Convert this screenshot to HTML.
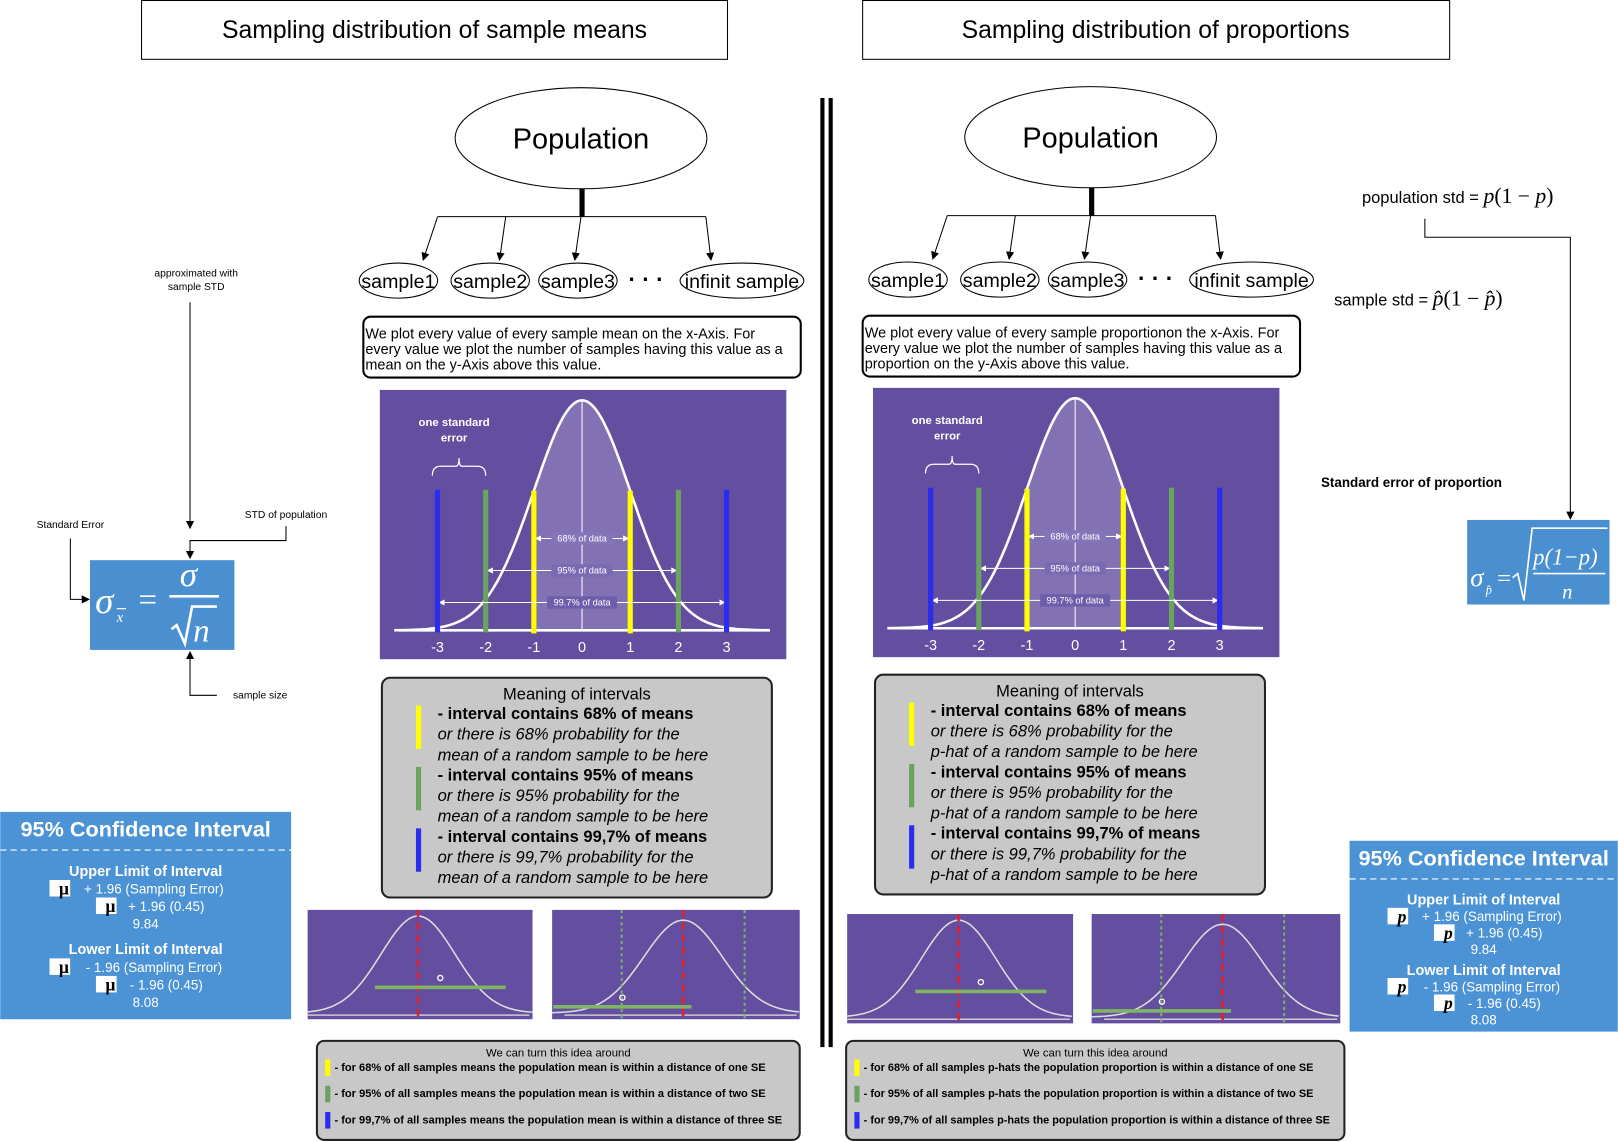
<!DOCTYPE html>
<html><head><meta charset="utf-8"><style>
html,body{margin:0;padding:0;background:#fff;}
svg{display:block;font-family:"Liberation Sans",sans-serif;}
</style></head><body>
<svg id="root" width="1618" height="1142" viewBox="0 0 1568 1107" xmlns="http://www.w3.org/2000/svg">
<defs>
<marker id="ah" markerWidth="8" markerHeight="8" refX="7" refY="4" orient="auto" markerUnits="userSpaceOnUse"><path d="M0,0 L8,4 L0,8 z" fill="#000"/></marker>
<marker id="wa" markerWidth="6" markerHeight="6" refX="5" refY="3" orient="auto" markerUnits="userSpaceOnUse"><path d="M0,0 L6,3 L0,6 z" fill="#fff"/></marker>
</defs>

<g>
<rect x="137" y="0.5" width="568" height="57" fill="#fff" stroke="#000"/>
<text x="421" y="37" font-size="24" text-anchor="middle">Sampling distribution of sample means</text></g>
<g>
<rect x="836" y="0.5" width="569" height="57" fill="#fff" stroke="#000"/>
<text x="1120" y="37" font-size="24" text-anchor="middle">Sampling distribution of proportions</text></g>

<g>
<rect x="795" y="95" width="4" height="920" fill="#000"/>
<rect x="803" y="95" width="4" height="920" fill="#000"/></g>

<g font-size="10">
<text x="190" y="268" text-anchor="middle">approximated with</text>
<text x="190" y="281" text-anchor="middle">sample STD</text>
<line x1="184" y1="293" x2="184" y2="512" stroke="#000" marker-end="url(#ah)"/>
<text x="277" y="502" text-anchor="middle">STD of population</text>
<polyline points="277,510 277,524 184,524 184,541" fill="none" stroke="#000" marker-end="url(#ah)"/>
<text x="68" y="512" text-anchor="middle">Standard Error</text>
<polyline points="68,522 68,581 86,581" fill="none" stroke="#000" marker-end="url(#ah)"/>
<text x="252" y="677" text-anchor="middle">sample size</text>
<polyline points="210,674 184,674 184,632" fill="none" stroke="#000" marker-end="url(#ah)"/>
</g>
<g>
<rect x="87" y="543" width="140" height="87" fill="#4a8fd0"/>
<text x="92" y="594" font-size="36" font-family="Liberation Serif,serif" font-style="italic" fill="#fff">σ</text>
<text x="113" y="603" font-size="14" font-family="Liberation Serif,serif" font-style="italic" fill="#fff">x</text>
<line x1="113" y1="590" x2="122" y2="590" stroke="#fff" stroke-width="1.2"/>
<text x="134" y="592" font-size="32" font-family="Liberation Serif,serif" fill="#fff">=</text>
<text x="174" y="568" font-size="34" font-family="Liberation Serif,serif" font-style="italic" fill="#fff">σ</text>
<line x1="164" y1="578" x2="212" y2="578" stroke="#fff" stroke-width="2.5"/>
<path d="M166,610 L171,606 L179,624 L186,588 L210,588" fill="none" stroke="#fff" stroke-width="2.5"/>
<text x="187" y="622" font-size="32" font-family="Liberation Serif,serif" font-style="italic" fill="#fff">n</text>
</g>

<g>
<text x="1320" y="197" font-size="16">population std = <tspan font-family="Liberation Serif,serif" font-size="21" font-style="italic">p</tspan><tspan font-family="Liberation Serif,serif" font-size="21">(1 − </tspan><tspan font-family="Liberation Serif,serif" font-size="21" font-style="italic">p</tspan><tspan font-family="Liberation Serif,serif" font-size="21">)</tspan></text>
<polyline points="1381,212 1381,230 1522,230 1522,503" fill="none" stroke="#000" marker-end="url(#ah)"/>
<text x="1293" y="296" font-size="16">sample std = <tspan font-family="Liberation Serif,serif" font-size="21" font-style="italic">p̂</tspan><tspan font-family="Liberation Serif,serif" font-size="21">(1 − </tspan><tspan font-family="Liberation Serif,serif" font-size="21" font-style="italic">p̂</tspan><tspan font-family="Liberation Serif,serif" font-size="21">)</tspan></text>
<text x="1368" y="472" font-size="13" font-weight="bold" text-anchor="middle">Standard error of proportion</text>
</g>
<g font-family="Liberation Serif,serif" fill="#fff">
<rect x="1422" y="504" width="138" height="82" fill="#4a8fd0"/>
<text x="1425" y="568" font-size="26" font-style="italic" fill="#fff">σ</text>
<text x="1440" y="576" font-size="12" font-style="italic" fill="#fff">p̂</text>
<text x="1451" y="568" font-size="24" fill="#fff">=</text>
<path d="M1466,560 L1471,556 L1477,582 L1485,512 L1558,512" fill="none" stroke="#fff" stroke-width="1.6"/>
<text x="1486" y="547" font-size="22" font-style="italic" fill="#fff">p(1−p)</text>
<line x1="1486" y1="556" x2="1556" y2="556" stroke="#fff" stroke-width="1.5"/>
<text x="1514" y="580" font-size="20" font-style="italic" fill="#fff">n</text>
</g>

<g id="dyn"></g>
</svg>
<script>
var sdTicks = [-3, -2, -1, 0, 1, 2, 3];
var bandSigma = [1, 2, 3];
var bandLabels = ['68% of data', '95% of data', '99.7% of data'];
var bandColors = ['#ffff00', '#6aa35e', '#2c2cf0'];
var sampleNames = ['sample1', 'sample2', 'sample3', 'infinit sample'];
var meaningHeads = ['- interval contains 68% of means', '- interval contains 95% of means', '- interval contains 99,7% of means'];
var meaningPct = ['68%', '95%', '99,7%'];
var turnPct = ['68%', '95%', '99,7%'];
var turnDist = ['one', 'two', 'three'];
var smallMeans = [0, 0];
var sampleMeansA = [0.6, -1.55];
var ciHalf = [1.96, 1.96];

var NS = 'http://www.w3.org/2000/svg';
var dyn = document.getElementById('dyn');
function mk(tag, attrs, parent) {
  var e = document.createElementNS(NS, tag);
  for (var k in attrs) e.setAttribute(k, attrs[k]);
  (parent || dyn).appendChild(e);
  return e;
}
function txt(str, attrs, parent) { var t = mk('text', attrs, parent); t.textContent = str; return t; }

function side(ox, oy, key, isProp, cfg) {
  var g = mk('g', {});
  
  
  var pe = mk('ellipse', {cx: 563 + ox, cy: 134 + oy, rx: 122, ry: 49, fill: '#fff', stroke: '#000', 'stroke-width': 1}, g);
  
  
  txt('Population', {x: 563 + ox, y: 144 + oy, 'font-size': 28, 'text-anchor': 'middle'}, g);
  mk('rect', {x: 561.5 + ox, y: 183 + oy, width: 5, height: 27}, g);
  mk('line', {x1: 424 + ox, y1: 210 + oy, x2: 684 + ox, y2: 210 + oy, stroke: '#000'}, g);
  var from = [424, 490, 563, 684], to = [410, 484, 557, 689];
  var sx = [386, 475, 560, 719], rx = [38, 38, 38, 60];
  for (var i = 0; i < 4; i++) {
    mk('line', {x1: from[i] + ox, y1: 210 + oy, x2: to[i] + ox, y2: 252 + oy, stroke: '#000', 'marker-end': 'url(#ah)'}, g);
    var se = mk('ellipse', {cx: sx[i] + ox, cy: 272 + oy, rx: rx[i], ry: 17, fill: '#fff', stroke: '#000'}, g);
    
    
    txt(sampleNames[i], {x: sx[i] + ox, y: 279 + oy, 'font-size': 19, 'text-anchor': 'middle'}, g);
  }
  txt('· · ·', {x: 626 + ox, y: 278 + oy, 'font-size': 22, 'font-weight': 'bold', 'text-anchor': 'middle'}, g);
  var ex = cfg.explX;
  var eb = mk('rect', {x: ex, y: 307 + oy, width: 424, height: 59, rx: 7, fill: '#fff', stroke: '#000', 'stroke-width': 2}, g);
  
  
  var lines = cfg.expl;
  for (var j = 0; j < 3; j++) txt(lines[j], {x: ex + 2, y: 328 + oy + j * 15, 'font-size': 14}, g);

  var cx0 = cfg.chartX, cy0 = cfg.chartY;
  var ch = mk('g', {}, g);
  
  
  mk('rect', {x: cx0, y: cy0, width: 394, height: 261, fill: '#634ea0'}, ch);
  var mid = cx0 + 196, base = cy0 + 233, unit = 46.7, H = 223;
  function xs(z) { return mid + z * unit; }
  function ys(z) { return base - H * Math.exp(-z * z / 2); }
  var d = '', fill = '';
  for (var z = -3.9; z <= 3.9001; z += 0.05) d += (d ? 'L' : 'M') + xs(z).toFixed(1) + ',' + ys(z).toFixed(1);
  fill = 'M' + xs(-1) + ',' + base;
  for (var z2 = -1; z2 <= 1.0001; z2 += 0.05) fill += 'L' + xs(z2).toFixed(1) + ',' + ys(z2).toFixed(1);
  fill += 'L' + xs(1) + ',' + base + 'Z';
  mk('path', {d: fill, fill: 'rgba(255,255,255,0.2)'}, ch);
  var cp = mk('path', {d: d, fill: 'none', stroke: '#fff', 'stroke-width': 2.5}, ch);
  
  
  mk('line', {x1: cx0 + 18, y1: base, x2: cx0 + 378, y2: base, stroke: '#fff', 'stroke-width': 2.5}, ch);
  mk('line', {x1: mid, y1: ys(0), x2: mid, y2: base, stroke: '#fff', 'stroke-width': 1}, ch);
  for (var b = 0; b < bandSigma.length; b++) {
    var s = bandSigma[b], yy = base - 89 + b * 31;
    var lw = bandLabels[b].length * 4.3 / 2 + 6;
    mk('rect', {x: mid - lw, y: yy - 6, width: lw * 2, height: 12, fill: b == 0 ? '#8474b8' : (b == 1 ? '#7a6ab2' : '#6e5daa')}, ch);
    txt(bandLabels[b], {x: mid, y: yy + 3, 'font-size': 9, fill: '#fff', 'text-anchor': 'middle'}, ch);
    mk('line', {x1: mid - lw, y1: yy, x2: xs(-s) + 2, y2: yy, stroke: '#fff', 'marker-end': 'url(#wa)'}, ch);
    mk('line', {x1: mid + lw, y1: yy, x2: xs(s) - 2, y2: yy, stroke: '#fff', 'marker-end': 'url(#wa)'}, ch);
    for (var sg = -1; sg <= 1; sg += 2) {
      var bar = mk('rect', {x: xs(sg * s) - 2.5, y: ys(1) + (s == 1 ? 0 : -1), width: 5, height: base + 3 - ys(1), fill: bandColors[b]}, ch);
      
      
    }
  }
  for (var t = 0; t < sdTicks.length; t++) {
    txt(String(sdTicks[t]), {x: xs(sdTicks[t]), y: base + 21, 'font-size': 14, fill: '#fff', 'text-anchor': 'middle'}, ch);
  }
  txt('one standard', {x: cx0 + 72, y: cy0 + 35, 'font-size': 11, fill: '#fff', 'font-weight': 'bold', 'text-anchor': 'middle'}, ch);
  txt('error', {x: cx0 + 72, y: cy0 + 50, 'font-size': 11, fill: '#fff', 'font-weight': 'bold', 'text-anchor': 'middle'}, ch);
  var bx1 = xs(-3) - 5, bx2 = xs(-2), bm = (bx1 + bx2) / 2;
  mk('path', {d: 'M' + bx1 + ',' + (cy0 + 83) + ' Q' + bx1 + ',' + (cy0 + 74) + ' ' + (bx1 + 8) + ',' + (cy0 + 74) + ' L' + (bm - 3) + ',' + (cy0 + 74) + ' Q' + bm + ',' + (cy0 + 74) + ' ' + bm + ',' + (cy0 + 66) + ' Q' + bm + ',' + (cy0 + 74) + ' ' + (bm + 3) + ',' + (cy0 + 74) + ' L' + (bx2 - 8) + ',' + (cy0 + 74) + ' Q' + bx2 + ',' + (cy0 + 74) + ' ' + bx2 + ',' + (cy0 + 83), fill: 'none', stroke: '#fff', 'stroke-width': 1.2}, ch);

  var my = cfg.meanY, mx = cfg.meanX;
  var mb = mk('rect', {x: mx, y: my, width: 378, height: 213, rx: 8, fill: '#c8c8c8', stroke: '#222', 'stroke-width': 2}, g);
  
  
  txt('Meaning of intervals', {x: mx + 189, y: my + 21, 'font-size': 16, 'text-anchor': 'middle'}, g);
  for (var m = 0; m < 3; m++) {
    var by = my + 40 + m * 59.5;
    mk('rect', {x: mx + 33, y: by - 13, width: 5, height: 42, fill: bandColors[m]}, g);
    txt(meaningHeads[m], {x: mx + 54, y: by, 'font-size': 16, 'font-weight': 'bold'}, g);
    txt('or there is ' + meaningPct[m] + ' probability for the', {x: mx + 54, y: by + 20, 'font-size': 16, 'font-style': 'italic'}, g);
    txt(cfg.meanLine3, {x: mx + 54, y: by + 40, 'font-size': 16, 'font-style': 'italic'}, g);
  }

  var sc = cfg.small;
  for (var c = 0; c < 2; c++) {
    var r = sc[c];
    var sg2 = mk('g', {}, g);
    
    
    mk('rect', {x: r.x, y: r.y, width: r.w, height: 106, fill: '#634ea0'}, sg2);
    var sd = r.sd, cxm = r.cx + smallMeans[c] * sd, b0 = r.y + 100, hh = 100 - r.top;
    var p = '';
    for (var zz = -(cxm - r.x) / sd; zz <= (r.x + r.w - cxm) / sd; zz += 0.05) p += (p ? 'L' : 'M') + (cxm + zz * sd).toFixed(1) + ',' + (b0 - hh * Math.exp(-zz * zz / 2)).toFixed(1);
    mk('path', {d: p, fill: 'none', stroke: '#ddd', 'stroke-width': 1.5}, sg2);
    mk('line', {x1: r.x + (c ? 12 : 0), y1: r.y + 102, x2: r.x + r.w - 3, y2: r.y + 102, stroke: '#ccc', 'stroke-width': 1.5}, sg2);
    mk('line', {x1: cxm, y1: r.y, x2: cxm, y2: r.y + 106, stroke: '#e0202a', 'stroke-width': 2.5, 'stroke-dasharray': '7,5'}, sg2);
    if (c == 1) {
      for (var q = -1; q <= 1; q += 2) mk('line', {x1: cxm + q * 1.96 * sd * 0.8, y1: r.y, x2: cxm + q * 1.96 * sd * 0.8, y2: r.y + 106, stroke: '#7fae6a', 'stroke-width': 2, 'stroke-dasharray': '3,3'}, sg2);
    }
    var smx = cxm + sampleMeansA[c] * sd;
    var gy = c ? r.y + 94 : r.y + 75;
    var ci = mk('line', {x1: smx - ciHalf[c] * sd * 0.9, y1: gy, x2: smx + ciHalf[c] * sd * 0.9, y2: gy, stroke: '#7fb562', 'stroke-width': 3.5}, sg2);
    
    
    mk('circle', {cx: smx, cy: gy - 9, r: 2.5, fill: 'none', stroke: '#fff', 'stroke-width': 1.3}, sg2);
  }

  var ty = cfg.turnY, tx = cfg.turnX;
  var tb = mk('rect', {x: tx, y: ty, width: cfg.turnW, height: 96, rx: 7, fill: '#c8c8c8', stroke: '#222', 'stroke-width': 2}, g);
  
  
  txt('We can turn this idea around', {x: tx + cfg.turnW / 2, y: ty + 15, 'font-size': 11, 'text-anchor': 'middle'}, g);
  for (var k = 0; k < 3; k++) {
    var ly = ty + 28 + k * 25.5;
    mk('rect', {x: tx + 8, y: ly - 10, width: 5, height: 16, fill: bandColors[k]}, g);
    txt('-  for ' + turnPct[k] + ' of all samples ' + cfg.turnMid + ' is within a distance of ' + turnDist[k] + ' SE', {x: tx + 17, y: ly + 1, 'font-size': 10.5, 'font-weight': 'bold', textLength: cfg.turnLen[k], lengthAdjust: 'spacingAndGlyphs'}, g);
  }

  var cb = cfg.ci;
  var cig = mk('g', {}, g);
  
  
  mk('rect', {x: cb.x, y: cb.y, width: cb.w, height: cb.h, fill: '#4b93d5'}, cig);
  var c0 = cb.x + cb.w / 2;
  txt('95% Confidence Interval', {x: c0, y: cb.y + 24, 'font-size': 21, 'font-weight': 'bold', fill: '#fff', 'text-anchor': 'middle'}, cig);
  mk('line', {x1: cb.x, y1: cb.y + 37, x2: cb.x + cb.w, y2: cb.y + 37, stroke: '#fff', 'stroke-dasharray': '6,4'}, cig);
  var rows = [['Upper Limit of Interval', 1], [' + 1.96 (Sampling Error)', 0], [' + 1.96 (0.45)', 0], ['9.84', 0], ['Lower Limit of Interval', 1], [' - 1.96 (Sampling Error)', 0], [' - 1.96 (0.45)', 0], ['8.08', 0]];
  var sym = cb.sym;
  for (var rr = 0; rr < rows.length; rr++) {
    var ry = cb.y + 62 + rr * cb.step + (rr >= 4 ? cb.gap : 0);
    var isSym = (rr == 1 || rr == 2 || rr == 5 || rr == 6);
    var xo = (rr == 2 || rr == 6) ? 12 : 0;
    txt(rows[rr][0], {x: c0 + (isSym ? 8 + xo : 0), y: ry, 'font-size': rows[rr][1] ? 14 : 13, 'font-weight': rows[rr][1] ? 'bold' : 'normal', fill: '#fff', 'text-anchor': 'middle'}, cig);
    if (isSym) {
      var wl = rows[rr][0].length * 3.3;
      mk('rect', {x: c0 + 8 + xo - wl - 22, y: ry - 13, width: 20, height: 16, fill: '#fff'}, cig);
      txt(sym, {x: c0 + 8 + xo - wl - 8, y: ry + 1, 'font-size': 17, 'font-weight': 'bold', 'font-family': 'Liberation Serif,serif', 'font-style': isProp ? 'italic' : 'normal', 'text-anchor': 'middle'}, cig);
    }
  }
}

side(0, 0, 'means', false, {
  expl: ['We plot every value of every sample mean on the x-Axis. For', 'every value we plot the number of samples having this value as a', 'mean on the y-Axis above this value.'],
  explX: 352, chartX: 368, chartY: 378, meanX: 370, meanY: 657, meanLine3: 'mean of a random sample to be here',
  small: [{x: 298, y: 882, w: 218, cx: 405, sd: 36, top: 6}, {x: 535, y: 882, w: 240, cx: 662, sd: 38, top: 10}],
  turnX: 307, turnY: 1009, turnW: 468, turnMid: 'means the population mean', turnLen: [418, 418, 434],
  ci: {x: 0, y: 787, w: 282, h: 201, step: 17, gap: 8, sym: 'µ'}
});
side(494, -1, 'proportions', true, {
  expl: ['We plot every value of every sample proportionon the x-Axis. For', 'every value we plot the number of samples having this value as a', 'proportion on the y-Axis above this value.'],
  explX: 836, chartX: 846, chartY: 376, meanX: 848, meanY: 654, meanLine3: 'p-hat of a random sample to be here',
  small: [{x: 821, y: 886, w: 219, cx: 929, sd: 36, top: 6}, {x: 1058, y: 886, w: 241, cx: 1185, sd: 38, top: 10}],
  turnX: 820, turnY: 1009, turnW: 483, turnMid: 'p-hats the population proportion', turnLen: [436, 436, 452],
  ci: {x: 1308, y: 815, w: 260, h: 185, step: 16, gap: 4, sym: 'p'}
});
</script>
</body></html>
